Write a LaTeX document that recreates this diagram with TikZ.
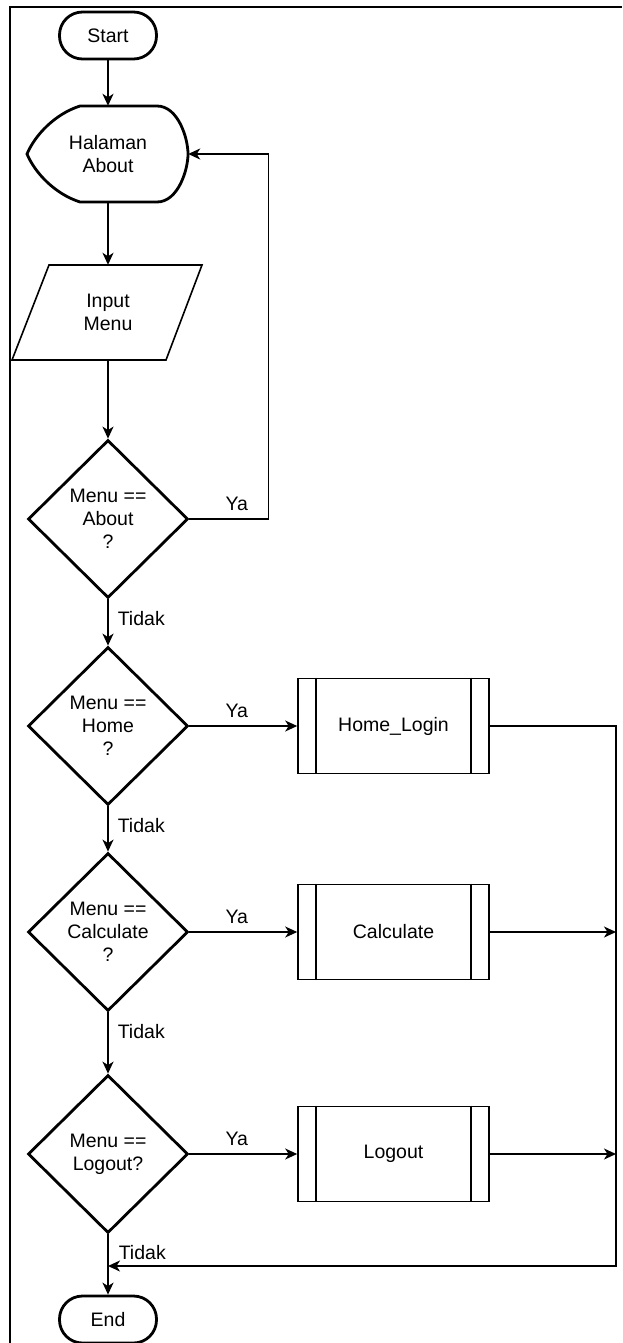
\documentclass[tikz,border=0pt]{standalone}
\usepackage{fontspec}
\setmainfont{Liberation Sans}
\usetikzlibrary{shapes.geometric,arrows.meta,positioning}

\tikzset{
  terminal/.style={draw,line width=2.8pt,rounded corners=23pt,minimum width=97pt,minimum height=47pt},
  decision/.style={draw,diamond,line width=2.8pt,minimum width=160pt,minimum height=158pt,inner sep=0pt,align=center},
  subproc/.style={draw,line width=1.6pt,minimum width=191pt,minimum height=95pt},
  flow/.style={line width=1.6pt,-{Stealth[length=12pt,width=11pt,inset=3.5pt]}},
  lbl/.style={inner sep=0pt}
}

\begin{document}
\begin{tikzpicture}[x=1pt,y=-1pt,font=\fontsize{19.5}{23}\selectfont]
        \useasboundingbox (0,0) rectangle (622,1343);
        \draw[line width=2.8pt] (10,1343) -- (10,7) -- (622,7) ; % frame

        \node[terminal] (start) at (108,35.5) {Start};
        \node[minimum width=160pt,minimum height=96pt,align=center] (about) at (108,154) {Halaman\\About};
        \draw[line width=2.8pt] (80,106) -- (157,106)
          .. controls (178,106) and (188,138) .. (188,154)
          .. controls (188,170) and (178,202) .. (157,202) -- (80,202)
          .. controls (55,194) and (35,173) .. (27,154)
          .. controls (35,135) and (55,114) .. cycle ;
        \node[minimum width=190pt,minimum height=95pt,align=center] (input) at (108,312.5) {Input\\Menu};
        \draw[line width=1.6pt] (49,265) -- (202,265) -- (166,360) -- (12,360) -- cycle ;

        \node[decision] (d1) at (108,519) {Menu ==\\About\\?};
        \node[decision] (d2) at (108,726) {Menu ==\\Home\\?};
        \node[decision] (d3) at (108,932) {Menu ==\\Calculate\\?};
        \node[decision] (d4) at (108,1154) {Menu ==\\Logout?};

        \node[subproc] (home) at (393.5,726) {Home\_Login};
        \node[subproc] (calc) at (393.5,932) {Calculate};
        \node[subproc] (logout) at (393.5,1154) {Logout};
        \foreach \n in {home,calc,logout}{
          \draw[line width=1.6pt] ([xshift=19pt]\n.north west) -- ([xshift=19pt]\n.south west) ;
          \draw[line width=1.6pt] ([xshift=-19pt]\n.north east) -- ([xshift=-19pt]\n.south east) ;
        }

        \node[terminal] (end) at (108,1319.5) {End};

        \coordinate (rb) at (616,1266) ;
        \coordinate (join) at (108,1266) ;

        \draw[flow] (start.south) -- (about.north) ;
        \draw[flow] (about.south) -- (input.north) ;
        \draw[flow] (input.south) -- (d1.north) ;
        \draw[flow] (d1.east) -- node[lbl,above=8pt,pos=0.6] {Ya} ++(79,0) |- (about.east) ;
        \draw[flow] (d1.south) node[lbl,below right=11pt and 9pt] {Tidak} -- (d2.north) ;
        \draw[flow] (d2.east) -- node[lbl,above=8pt,pos=0.44] {Ya} (home.west) ;
        \draw[flow] (d2.south) node[lbl,below right=11pt and 9pt] {Tidak} -- (d3.north) ;
        \draw[flow] (d3.east) -- node[lbl,above=8pt,pos=0.44] {Ya} (calc.west) ;
        \draw[flow] (d3.south) node[lbl,below right=11pt and 9pt] {Tidak} -- (d4.north) ;
        \draw[flow] (d4.east) -- node[lbl,above=8pt,pos=0.44] {Ya} (logout.west) ;
        \draw[flow] (d4.south) node[lbl,below right=10pt and 10pt] {Tidak} -- (end.north) ;

        \draw[flow] (home.east) -| (rb) -- (join) ;
        \draw[flow] (calc.east) -- (calc.east -| rb) ;
        \draw[flow] (logout.east) -- (logout.east -| rb) ;
\end{tikzpicture}
\end{document}
